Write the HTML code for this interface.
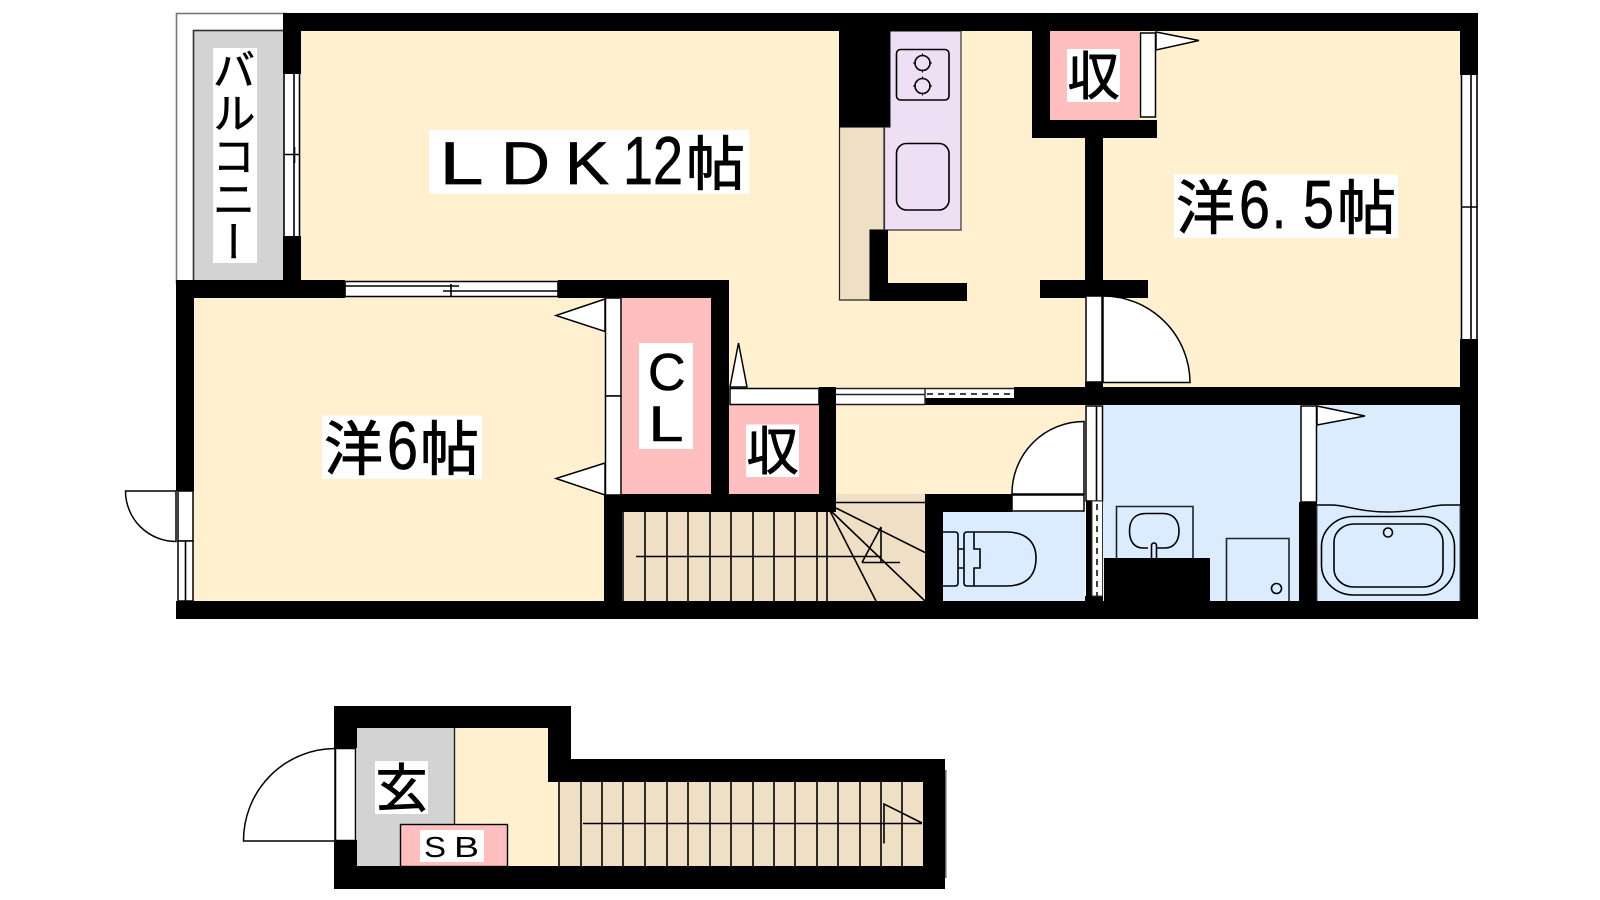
<!DOCTYPE html>
<html><head><meta charset="utf-8"><style>
html,body{margin:0;padding:0;background:#fff;width:1600px;height:900px;overflow:hidden}
svg{display:block}
.j{font-family:"Liberation Sans","Noto Sans CJK JP",sans-serif;fill:#000}
.l{font-family:"Liberation Sans",sans-serif;fill:#000}
.s{fill:none;stroke:#000;stroke-width:1.6}
.w{fill:#fff;stroke:#000;stroke-width:1.5}
</style></head><body>
<svg width="1600" height="900" viewBox="0 0 1600 900" xmlns="http://www.w3.org/2000/svg">
<!-- fills -->
<rect x="176.500" y="13.500" width="110" height="270" fill="#fff" stroke="#777" stroke-width="1.600"/>
<rect x="193.500" y="30.500" width="92" height="252" fill="#d3d3d3" stroke="#333" stroke-width="1.600"/>
<rect x="300" y="30" width="1161" height="360" fill="#fff0cf"/>
<rect x="193" y="297" width="412" height="305" fill="#fff0cf"/>
<rect x="836" y="404" width="250" height="92" fill="#fff0cf"/>
<rect x="622" y="297" width="90" height="198" fill="#ffbfbf"/>
<rect x="729" y="405" width="90" height="90" fill="#ffbfbf"/>
<rect x="1050" y="31" width="89" height="89" fill="#ffbfbf"/>
<rect x="622" y="494" width="303" height="108" fill="#efdfc5"/>
<rect x="943" y="511" width="142" height="91" fill="#dbecff"/>
<rect x="1103" y="404" width="358" height="198" fill="#dbecff"/>
<!-- kitchen -->
<path d="M839.500 127V300H870V230H884V127Z" fill="#efdfc5" stroke="#222" stroke-width="1.200"/>
<path d="M890 31H961V230H884.500V127H890Z" fill="#eedff5" stroke="#333" stroke-width="1.200"/>
<rect x="896.500" y="49.500" width="52.500" height="50.500" rx="4" class="s"/>
<circle cx="922.500" cy="63" r="7.500" class="s"/><circle cx="922.500" cy="86" r="7.500" class="s"/>
<path d="M922.500 53.500v3M922.500 69.500v3M913 63h3M929 63h3M922.500 76.500v3M922.500 92.500v3M913 86h3M929 86h3" stroke="#000" stroke-width="1" fill="none"/>
<rect x="896.500" y="143.500" width="52.500" height="66.500" rx="10" class="s"/>
<!-- stairs upper -->
<g class="s">
<path d="M623 512V601M645 512V601M667 512V601M688 512V601M710 512V601M731 512V601M753 512V601M774 512V601M795 512V601M817 512V601M827 512V601"/>
<path d="M636 556.500H881M862 562.500H900M862 562.500L881 527V562.500"/>
<path d="M836 508L925 552.500M831 511L925 601M830 511L876 601"/>
<path d="M836 502.500H925" stroke-width="1.500"/>
</g>
<!-- walls -->
<g fill="#000">
<rect x="283" y="13" width="1195" height="18"/>
<rect x="283" y="13" width="18" height="61"/>
<rect x="283" y="236" width="18" height="62"/>
<rect x="176" y="280" width="169" height="18"/>
<rect x="558" y="280" width="171" height="18"/>
<rect x="176" y="280" width="18" height="211"/>
<rect x="176" y="601" width="1302" height="18"/>
<rect x="1460" y="13" width="18" height="62"/>
<rect x="1460" y="339" width="18" height="280"/>
<rect x="839" y="31" width="51" height="96"/>
<rect x="870" y="230" width="18" height="71"/>
<rect x="870" y="283" width="97" height="18"/>
<rect x="1032" y="31" width="18" height="107"/>
<rect x="1032" y="120" width="125" height="18"/>
<rect x="1085" y="138" width="18" height="142"/>
<rect x="1040" y="280" width="108" height="18"/>
<rect x="1014" y="387" width="464" height="18"/>
<rect x="1085" y="382" width="18" height="10"/>
<rect x="711" y="280" width="18" height="232"/>
<rect x="819" y="387" width="17" height="125"/>
<rect x="604" y="494" width="232" height="18"/>
<rect x="604" y="494" width="18" height="108"/>
<rect x="925" y="494" width="18" height="108"/>
<rect x="925" y="494" width="87" height="18"/>
<rect x="1299" y="502" width="18" height="100"/>
<rect x="1086" y="501" width="6" height="100"/>
<rect x="1085" y="596" width="18" height="6"/>
<rect x="1104" y="558" width="106" height="44"/>
</g>
<!-- windows and doors -->
<rect x="283" y="74" width="17" height="162" fill="#fff"/>
<path class="s" stroke-width="1.300" d="M284 74V236M294 74V236M299.500 74V236M285 154.500H299.500M294.500 147V163"/>
<rect x="345" y="281" width="213" height="16" fill="#fff"/>
<path class="s" d="M345 281.500H558M345 296.500H558M345 286H451M451 291H558M345 281V297M558 281V297M451 284V296M443 291H459M459 286H443"/>
<rect x="1461" y="75" width="17" height="264" fill="#fff"/>
<path class="s" stroke-width="1.300" d="M1461.500 75V339M1471 75V339M1477 75V339M1462 207H1477M1471 199V215"/>
<rect x="1140.500" y="33" width="15" height="84" class="w"/>
<path class="w" d="M1156 32L1199 40.500L1156 50Z"/>
<rect x="1086" y="296" width="16" height="86" class="w"/>
<path class="w" d="M1103 296A87 87 0 0 1 1190 382.500H1103Z"/>
<rect x="605.500" y="298" width="15.500" height="98" class="w"/>
<rect x="605.500" y="396" width="15.500" height="99" class="w"/>
<path class="w" d="M605 299L556 315.500L605 331.500Z"/>
<path class="w" d="M605 463L556 478.500L605 495Z"/>
<rect x="730" y="388.500" width="89" height="16" class="w"/>
<path class="w" d="M730 387L738.500 343L747 387Z"/>
<rect x="836" y="388.500" width="178" height="16" fill="#fff"/>
<rect x="925" y="398" width="89" height="7" fill="#000"/>
<path d="M836 388.500H1014M836 394.500H925M836 404.500H925M925 388V405" stroke="#222" stroke-width="1.400" fill="none"/>
<path d="M927 394H1014" stroke="#000" stroke-width="1.500" stroke-dasharray="6 5" fill="none"/>
<rect x="178" y="491" width="15" height="50" class="w"/>
<rect x="178" y="541" width="15" height="60" class="w"/>
<path class="s" stroke-width="1.300" d="M185.500 541V601"/>
<path class="w" d="M125.500 491A50.500 50.500 0 0 0 176 541.500V491Z"/>
<rect x="1012" y="495" width="72" height="16" class="w"/>
<path class="w" d="M1084 421.500A72 72 0 0 0 1012 494H1084Z"/>
<rect x="1086" y="406" width="16.500" height="95" class="w"/>
<path class="s" stroke-width="1.300" d="M1096.500 406V501"/>
<rect x="1092" y="501" width="10.500" height="95" fill="#fff" stroke="#333" stroke-width="1"/>
<path d="M1097 504V596" stroke="#000" stroke-width="1.500" stroke-dasharray="6 5" fill="none"/>
<rect x="1301" y="406" width="15.500" height="96" class="w"/>
<path class="w" d="M1317 406L1365 416L1317 425Z"/>
<!-- toilet -->
<g class="s">
<path d="M943 532H955Q958 532 958 535V583Q958 586 955 586H943"/>
<path d="M958 549H964M958 568H964"/>
<path d="M967 532H1006C1026 532 1036 542 1036 558C1036 576 1026 586 1006 586H967Q964 586 964 583V535Q964 532 967 532Z"/>
<path d="M974 532V549H980V568H974V586"/>
</g>
<!-- washroom -->
<g class="s">
<path d="M1116.500 558V506.500H1193V558" stroke="#222"/>
<path d="M1148 548H1143C1134 548 1129.500 541 1129.500 531C1129.500 520 1135 513.500 1146 513.500H1163C1173 513.500 1179 520 1179 531C1179 541 1174 548 1165 548H1157"/>
<path d="M1151.500 558V546Q1151.500 543 1154 543Q1156.500 543 1156.500 546V558"/>
<path d="M1226.500 601V538.500H1289V601" stroke="#222"/>
<circle cx="1276.500" cy="588.500" r="5"/>
</g>
<!-- bath -->
<g class="s">
<path d="M1317 505H1332C1345 505 1360 512 1388 512C1416 512 1431 505 1444 505H1460" stroke-width="1.400"/>
<rect x="1321.500" y="516.500" width="133" height="78.500" rx="32" ry="30"/>
<rect x="1334" y="524" width="109" height="63" rx="20" ry="18"/>
<circle cx="1388" cy="532.500" r="4.500"/>
<path d="M1317 505V601M1460 505V601" stroke="#444" stroke-width="1"/>
</g>
<!-- lower floor -->
<rect x="357" y="728" width="97" height="138" fill="#d3d3d3"/>
<path d="M454 728H548V782H559V866H454Z" fill="#fff0cf"/>
<rect x="559" y="782" width="364" height="84" fill="#efdfc5"/>
<rect x="400.500" y="824.500" width="107" height="42" fill="#ffbfbf" stroke="#000" stroke-width="1.400"/>
<path d="M454.500 728V825" stroke="#222" stroke-width="1.400"/>
<g class="s">
<path d="M559 782V866M581 782V866M602 782V866M623 782V866M645 782V866M667 782V866M688 782V866M710 782V866M731 782V866M753 782V866M774 782V866M795 782V866M817 782V866M838 782V866M860 782V866M881 782V866M902 782V866"/>
<path d="M583 823.500H922M884 843.500V804L922 823"/>
</g>
<g fill="#000">
<path d="M334 706H571V759H945V889H334V840H357V866H923V782H548V728H357V748H334Z"/>
</g>
<rect x="945" y="770" width="1.500" height="108" fill="#666"/>
<rect x="335.500" y="748.500" width="20" height="92" class="w"/>
<path class="w" d="M335 748.500A92 92 0 0 0 243.500 841H335Z"/>
<!-- labels -->
<g fill="#fff">
<rect x="213" y="48" width="44" height="215"/>
<rect x="429" y="130" width="320" height="64"/>
<rect x="1174" y="174.500" width="224" height="63.500"/>
<rect x="322" y="415.500" width="160" height="63.500"/>
<rect x="1067" y="49" width="53" height="53"/>
<rect x="639" y="343" width="54" height="106"/>
<rect x="746" y="424.500" width="53" height="52.500"/>
<rect x="375" y="761" width="53" height="53"/>
<rect x="420" y="830" width="64" height="32"/>
</g>
<text class="j" font-size="43" x="230" y="48" style="writing-mode:vertical-rl;text-orientation:upright" stroke="#000" stroke-width=".6">バルコニー</text>
<text class="l" font-size="60" x="439.500" y="184" textLength="44" lengthAdjust="spacingAndGlyphs" stroke="#000" stroke-width=".7">L</text>
<text class="l" font-size="60" x="501" y="184" textLength="49" lengthAdjust="spacingAndGlyphs" stroke="#000" stroke-width=".7">D</text>
<text class="l" font-size="60" x="565" y="184" textLength="44" lengthAdjust="spacingAndGlyphs" stroke="#000" stroke-width=".7">K</text>
<text class="l" font-size="68" x="623" y="184" textLength="60" lengthAdjust="spacingAndGlyphs" stroke="#000" stroke-width=".7">12</text>
<text class="j" font-size="59" x="686" y="185" stroke="#000" stroke-width=".9">帖</text>
<text class="j" font-size="59" x="1176" y="229" stroke="#000" stroke-width=".9">洋</text>
<text class="l" font-size="68" x="1239" y="228" textLength="31" lengthAdjust="spacingAndGlyphs" stroke="#000" stroke-width=".7">6</text>
<text class="l" font-size="68" x="1272" y="228" textLength="14" lengthAdjust="spacingAndGlyphs" stroke="#000" stroke-width=".7">.</text>
<text class="l" font-size="68" x="1303" y="228" textLength="31" lengthAdjust="spacingAndGlyphs" stroke="#000" stroke-width=".7">5</text>
<text class="j" font-size="59" x="1337" y="229" stroke="#000" stroke-width=".9">帖</text>
<text class="j" font-size="59" x="324" y="470" stroke="#000" stroke-width=".9">洋</text>
<text class="l" font-size="68" x="387" y="469" textLength="31" lengthAdjust="spacingAndGlyphs" stroke="#000" stroke-width=".7">6</text>
<text class="j" font-size="59" x="420" y="470" stroke="#000" stroke-width=".9">帖</text>
<text class="j" font-size="52" x="1067.500" y="95" stroke="#000" stroke-width=".9">収</text>
<text class="j" font-size="52" x="746.500" y="470" stroke="#000" stroke-width=".9">収</text>
<text class="j" font-size="52" x="375.500" y="807" stroke="#000" stroke-width=".9">玄</text>
<text class="l" font-size="52" x="648" y="390" stroke="#000" stroke-width=".6">C</text>
<text class="l" font-size="50" x="648.500" y="441" textLength="35" lengthAdjust="spacingAndGlyphs" stroke="#000" stroke-width=".6">L</text>
<text class="l" font-size="29" x="424" y="857" textLength="22" lengthAdjust="spacingAndGlyphs">S</text>
<text class="l" font-size="29" x="454" y="857" textLength="25" lengthAdjust="spacingAndGlyphs">B</text>
</svg>
</body></html>
